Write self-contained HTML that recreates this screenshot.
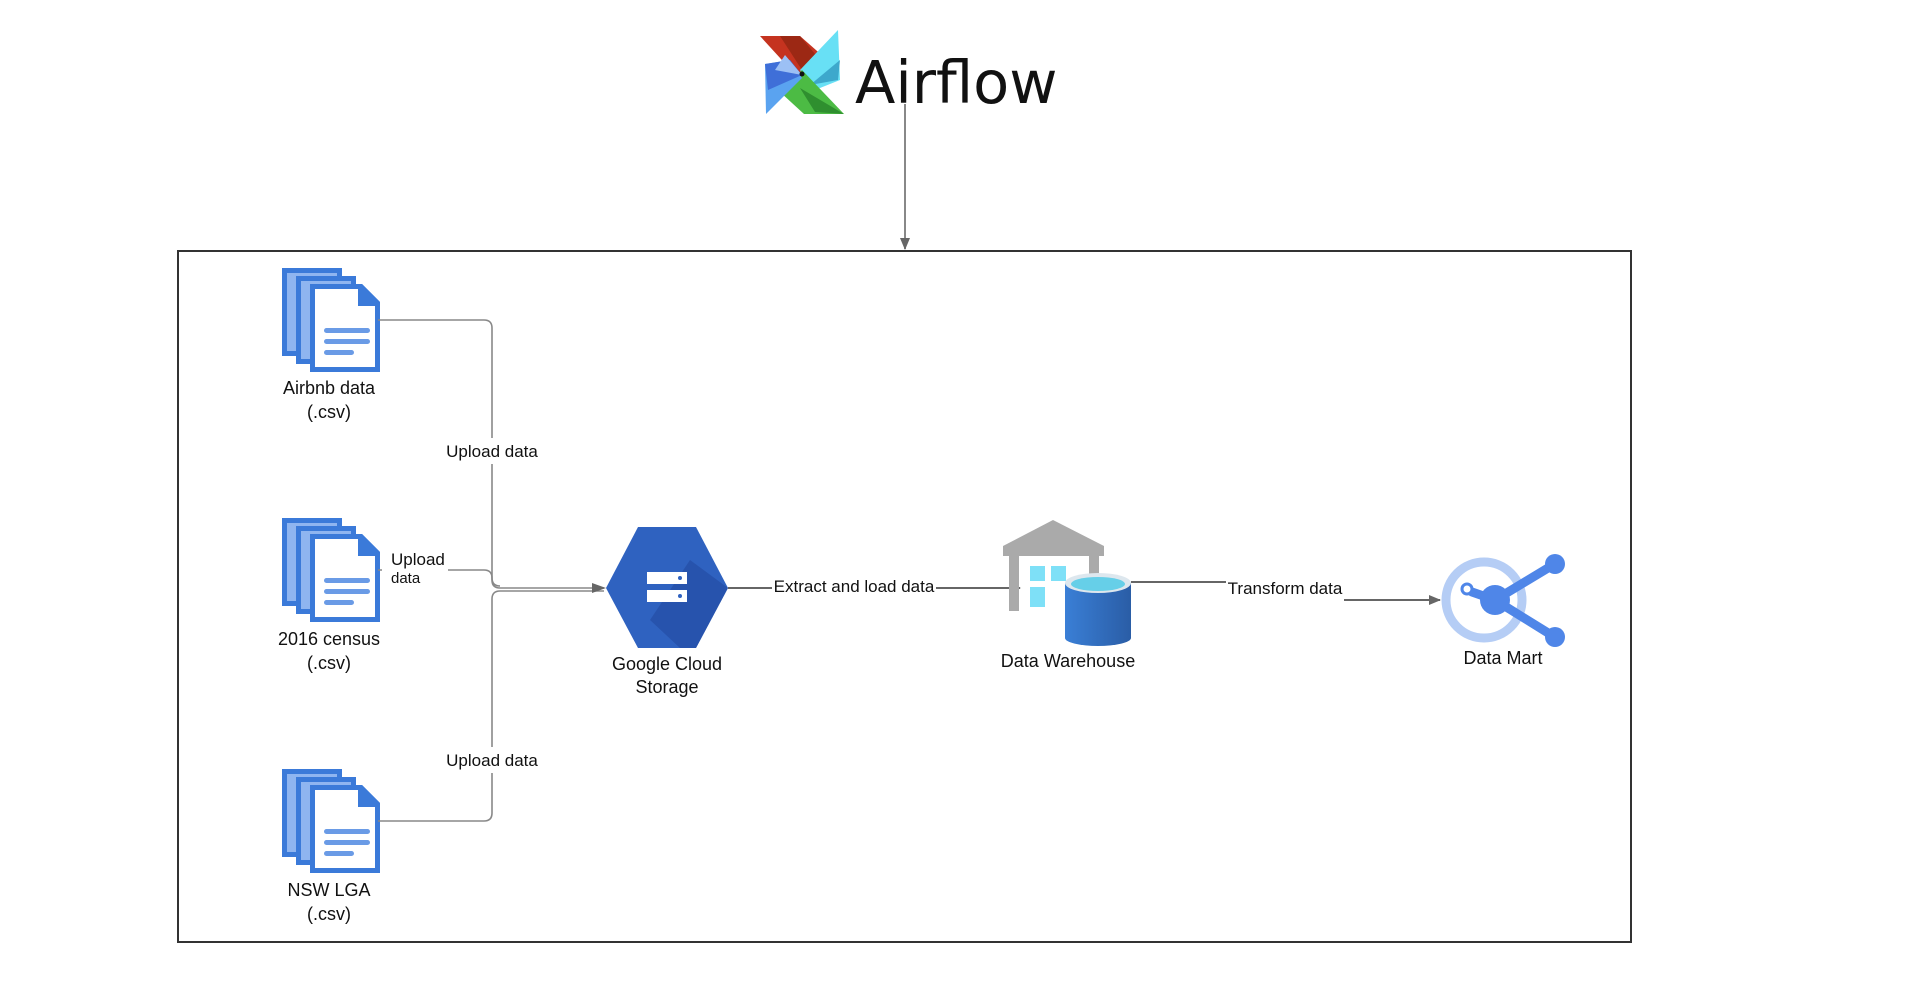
<!DOCTYPE html>
<html><head><meta charset="utf-8"><style>
html,body{margin:0;padding:0;background:#fff;}
svg{display:block;}
text{font-family:"Liberation Sans",Arial,sans-serif;fill:#111;}
</style></head><body>
<svg width="1910" height="986" viewBox="0 0 1910 986" xmlns="http://www.w3.org/2000/svg">
<defs>
<marker id="ar" markerWidth="12" markerHeight="10" refX="11" refY="5" orient="auto" markerUnits="userSpaceOnUse">
<path d="M0,0 L12,5 L0,10 Z" fill="#666"/></marker>
<g id="doc">
<rect x="0" y="0" width="60" height="88" fill="#3b7ad9"/>
<rect x="5" y="5" width="50" height="78" fill="#8fb5f0"/>
<rect x="14" y="8" width="60" height="88" fill="#3b7ad9"/>
<rect x="19" y="13" width="50" height="78" fill="#8fb5f0"/>
<path d="M28 16 H80 L98 34 V104 H28 Z" fill="#3b7ad9"/>
<path d="M33 21 H76 V38 H93 V99 H33 Z" fill="#fff"/>
<path d="M80 16 L98 34 H80 Z" fill="#3b7ad9"/>
<rect x="42" y="60" width="46" height="5" rx="2.5" fill="#6a9be6"/>
<rect x="42" y="71" width="46" height="5" rx="2.5" fill="#6a9be6"/>
<rect x="42" y="82" width="30" height="5" rx="2.5" fill="#6a9be6"/>
</g>
</defs>

<!-- Airflow logo -->
<g transform="translate(760,30)">
<path d="M0 6 L40 6 L65 28 L42 52 Z" fill="#c5331f"/>
<path d="M20 6 L40 6 L60 30 L42 40 Z" fill="#9c2814"/>
<path d="M78 0 L80 50 L55 60 L40 40 Z" fill="#68e0f5"/>
<path d="M80 30 L78 50 L50 55 Z" fill="#3da8cc"/>
<path d="M84 84 L44 84 L20 62 L42 40 Z" fill="#4cbb44"/>
<path d="M84 84 L55 82 L40 58 Z" fill="#2f8f2f"/>
<path d="M6 84 L5 34 L30 30 L42 48 Z" fill="#5aa3f0"/>
<path d="M5 34 L30 30 L42 45 L8 60 Z" fill="#3f6fd8"/>
<path d="M25 25 L42 45 L15 40 Z" fill="#9cc0f5"/>
<circle cx="42" cy="44" r="2.5" fill="#111"/>
</g>
<text x="855" y="103" font-size="59" style="font-family:'DejaVu Sans','Liberation Sans',sans-serif;">Airflow</text>

<line x1="905" y1="104" x2="905" y2="249" stroke="#888" stroke-width="2" marker-end="url(#ar)"/>

<rect x="178" y="251" width="1453" height="691" fill="none" stroke="#333" stroke-width="2"/>

<!-- docs -->
<use href="#doc" x="282" y="268"/>
<use href="#doc" x="282" y="518"/>
<use href="#doc" x="282" y="769"/>
<g font-size="18" text-anchor="middle">
<text x="329" y="394">Airbnb data</text><text x="329" y="418">(.csv)</text>
<text x="329" y="645">2016 census</text><text x="329" y="669">(.csv)</text>
<text x="329" y="896">NSW LGA</text><text x="329" y="920">(.csv)</text>
</g>

<!-- upload connectors -->
<g fill="none" stroke="#888" stroke-width="1.6">
<path d="M378 320 H484 Q492 320 492 328 V580 Q492 588 500 588 H604"/>
<path d="M378 570 H382 M448 570 H484 Q492 570 492 578 Q492 586 500 586"/>
<path d="M378 821 H484 Q492 821 492 813 V599 Q492 591 500 591 H604"/>
</g>
<path d="M592 583 L606 588 L592 593 Z" fill="#666"/>
<rect x="440" y="438" width="105" height="26" fill="#fff"/>
<text x="492" y="457" font-size="17" text-anchor="middle">Upload data</text>
<rect x="440" y="747" width="105" height="26" fill="#fff"/>
<text x="492" y="766" font-size="17" text-anchor="middle">Upload data</text>
<text x="391" y="565" font-size="17">Upload</text>
<text x="391" y="583" font-size="15">data</text>

<!-- GCS -->
<path d="M638 527 H696 L728 588 L696 648 H638 L606 588 Z" fill="#2f62c0"/>
<path d="M690 560 L728 588 L696 648 H680 L650 620 Z" fill="#2550a8" opacity="0.8"/>
<rect x="647" y="572" width="40" height="12" fill="#fff"/>
<rect x="647" y="590" width="40" height="12" fill="#fff"/>
<circle cx="680" cy="578" r="2" fill="#2f62c0"/><circle cx="680" cy="596" r="2" fill="#2f62c0"/>
<g font-size="18" text-anchor="middle">
<text x="667" y="670">Google Cloud</text><text x="667" y="693">Storage</text>
</g>

<line x1="728" y1="588" x2="1020" y2="588" stroke="#666" stroke-width="2" marker-end="url(#ar)"/>
<rect x="772" y="575" width="164" height="22" fill="#fff"/>
<text x="854" y="592" font-size="17" text-anchor="middle">Extract and load data</text>

<!-- Warehouse -->
<path d="M1053 520 L1104 546 V556 H1003 V546 Z" fill="#aaa"/>
<rect x="1009" y="556" width="10" height="55" fill="#aaa"/>
<rect x="1089" y="556" width="10" height="30" fill="#aaa"/>
<rect x="1030" y="566" width="15" height="15" fill="#7ee0f7"/>
<rect x="1051" y="566" width="15" height="15" fill="#7ee0f7"/>
<rect x="1030" y="587" width="15" height="20" fill="#7ee0f7"/>
<defs><linearGradient id="cy" x1="0" x2="1"><stop offset="0" stop-color="#3a7fd6"/><stop offset="1" stop-color="#2a5da6"/></linearGradient></defs>
<path d="M1065 583 V638 A33 8 0 0 0 1131 638 V583 Z" fill="url(#cy)"/>
<ellipse cx="1098" cy="583" rx="33" ry="10" fill="#dde7ee"/>
<ellipse cx="1098" cy="584" rx="27" ry="7" fill="#66cfe8"/>
<text x="1068" y="667" font-size="18" text-anchor="middle">Data Warehouse</text>

<!-- transform -->
<g stroke="#666" stroke-width="2" fill="none">
<path d="M1131 582 H1226"/>
<line x1="1344" y1="600" x2="1440" y2="600" marker-end="url(#ar)"/>
</g>
<text x="1285" y="594" font-size="17" text-anchor="middle">Transform data</text>

<!-- Data Mart -->
<circle cx="1484" cy="600" r="38" fill="none" stroke="#b5cdf5" stroke-width="9"/>
<g stroke="#4f86e8" stroke-width="9" stroke-linecap="round">
<line x1="1495" y1="600" x2="1553" y2="565"/>
<line x1="1495" y1="600" x2="1553" y2="636"/>
<line x1="1472" y1="592" x2="1495" y2="600"/>
</g>
<circle cx="1495" cy="600" r="15" fill="#4f86e8"/>
<circle cx="1555" cy="564" r="10" fill="#4f86e8"/>
<circle cx="1555" cy="637" r="10" fill="#4f86e8"/>
<circle cx="1467" cy="589" r="5" fill="#fff" stroke="#4f86e8" stroke-width="3"/>
<text x="1503" y="664" font-size="18" text-anchor="middle">Data Mart</text>
</svg>
</body></html>
